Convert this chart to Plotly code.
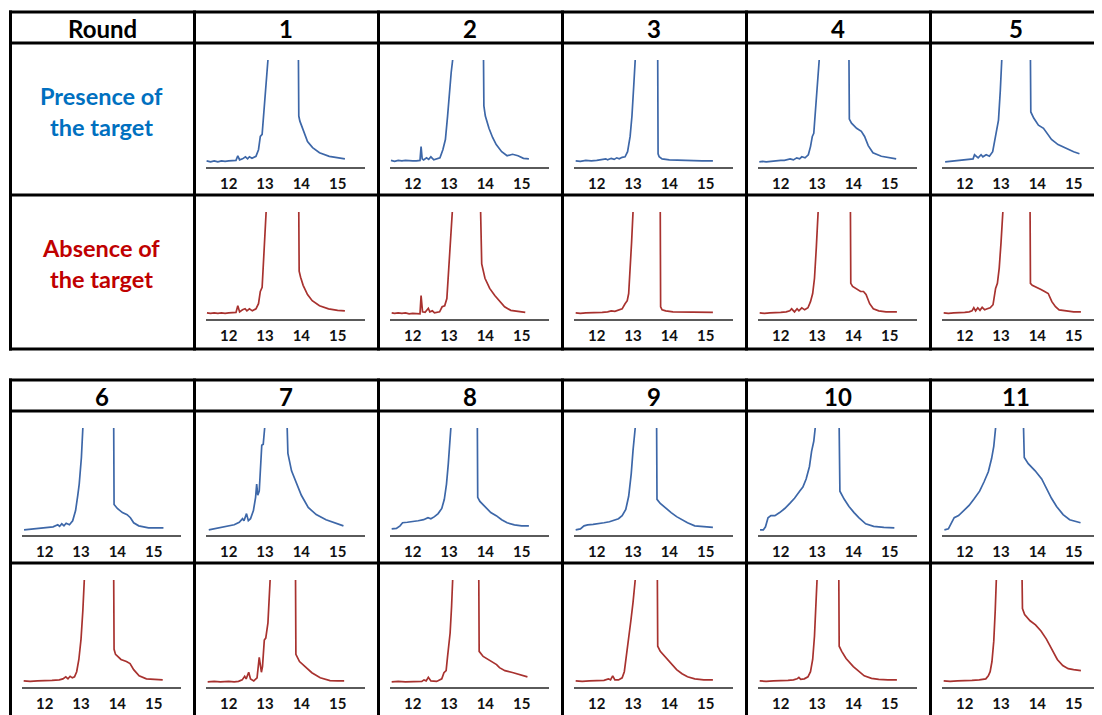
import plotly.graph_objects as go

# ---------------- data ----------------
rounds_top = [1, 2, 3, 4, 5]
rounds_bottom = [6, 7, 8, 9, 10, 11]
header_first = "Round"
row_label_presence = ["Presence of", "the target"]
row_label_absence = ["Absence of", "the target"]
tick_values = [12, 13, 14, 15]
x_range = [11.36, 15.74]
y_range = [-0.05, 1.0]

# Presence (blue) / Absence (red) traces for each round; None splits the clipped peak
p1_x = [11.39, 11.5, 11.6, 11.7, 11.8, 11.9, 12.0, 12.1, 12.2, 12.25, 12.3, 12.38, 12.46, 12.52, 12.57, 12.64, 12.75, 12.82, 12.87, 12.92, 12.96, 13.01, 13.05, 13.08, None, 13.92, 13.93, 13.96, 14.04, 14.17, 14.31, 14.5, 14.77, 15.0, 15.2]
p1_y = [0.01, 0.0, 0.01, 0.0, 0.01, 0.005, 0.01, 0.01, 0.015, 0.06, 0.02, 0.03, 0.05, 0.03, 0.05, 0.035, 0.055, 0.12, 0.25, 0.27, 0.45, 0.67, 0.9, 1.0, None, 1.0, 0.45, 0.4, 0.32, 0.2, 0.14, 0.09, 0.055, 0.04, 0.03]
a1_x = [11.4, 11.5, 11.6, 11.7, 11.8, 11.9, 12.0, 12.1, 12.2, 12.25, 12.3, 12.38, 12.45, 12.5, 12.57, 12.65, 12.75, 12.82, 12.87, 12.92, 12.96, 13.0, 13.03, None, 13.93, 13.94, 13.98, 14.05, 14.17, 14.3, 14.5, 14.75, 15.0, 15.2]
a1_y = [0.01, 0.005, 0.01, 0.005, 0.01, 0.005, 0.01, 0.01, 0.015, 0.08, 0.02, 0.04, 0.05, 0.03, 0.05, 0.03, 0.05, 0.1, 0.22, 0.26, 0.5, 0.8, 1.0, None, 1.0, 0.42, 0.36, 0.28, 0.19, 0.13, 0.08, 0.05, 0.035, 0.03]

p2_x = [11.4, 11.5, 11.6, 11.7, 11.8, 11.9, 12.0, 12.1, 12.2, 12.23, 12.26, 12.3, 12.38, 12.44, 12.5, 12.58, 12.66, 12.75, 12.83, 12.9, 12.96, 13.01, 13.06, 13.1, None, 13.95, 13.96, 14.0, 14.1, 14.2, 14.3, 14.45, 14.6, 14.75, 14.9, 15.05, 15.2]
p2_y = [0.015, 0.005, 0.015, 0.01, 0.015, 0.01, 0.01, 0.01, 0.015, 0.15, 0.03, 0.02, 0.04, 0.025, 0.05, 0.02, 0.03, 0.04, 0.12, 0.22, 0.45, 0.7, 0.88, 1.0, None, 1.0, 0.55, 0.45, 0.33, 0.24, 0.17, 0.1, 0.06, 0.075, 0.06, 0.035, 0.03]
a2_x = [11.42, 11.5, 11.6, 11.7, 11.8, 11.9, 12.0, 12.1, 12.2, 12.23, 12.27, 12.34, 12.43, 12.47, 12.54, 12.6, 12.74, 12.81, 12.88, 12.94, 12.99, 13.04, 13.09, None, 13.87, 13.88, 13.9, 13.99, 14.12, 14.26, 14.39, 14.53, 14.7, 14.9, 15.1]
a2_y = [0.01, 0.005, 0.01, 0.005, 0.01, 0.0, 0.005, 0.005, 0.0, 0.18, 0.02, 0.015, 0.055, 0.02, 0.03, 0.01, 0.02, 0.07, 0.08, 0.15, 0.47, 0.77, 1.0, None, 1.0, 0.55, 0.49, 0.35, 0.25, 0.18, 0.13, 0.07, 0.035, 0.025, 0.015]

p3_x = [11.42, 11.55, 11.7, 11.85, 12.0, 12.15, 12.25, 12.3, 12.4, 12.48, 12.55, 12.62, 12.7, 12.78, 12.85, 12.92, 12.97, 13.02, 13.06, None, 13.68, 13.69, 13.72, 13.8, 14.0, 14.3, 14.6, 14.9, 15.2]
p3_y = [0.01, 0.005, 0.015, 0.01, 0.015, 0.02, 0.03, 0.02, 0.035, 0.025, 0.04, 0.03, 0.045, 0.05, 0.1, 0.25, 0.45, 0.75, 1.0, None, 1.0, 0.08, 0.05, 0.03, 0.02, 0.015, 0.015, 0.01, 0.01]
a3_x = [11.42, 11.55, 11.7, 11.85, 12.0, 12.15, 12.3, 12.4, 12.5, 12.6, 12.7, 12.78, 12.84, 12.88, 12.92, 12.96, 13.0, None, 13.75, 13.76, 13.8, 13.9, 14.1, 14.4, 14.7, 15.0, 15.2]
a3_y = [0.01, 0.005, 0.01, 0.01, 0.015, 0.015, 0.02, 0.03, 0.025, 0.04, 0.05, 0.1, 0.13, 0.2, 0.4, 0.7, 1.0, None, 1.0, 0.07, 0.04, 0.03, 0.02, 0.02, 0.015, 0.015, 0.015]

p4_x = [11.41, 11.5, 11.6, 11.7, 11.8, 11.9, 12.0, 12.1, 12.2, 12.26, 12.35, 12.44, 12.52, 12.58, 12.67, 12.76, 12.82, 12.87, 12.91, 12.96, 13.02, 13.06, None, 13.88, 13.89, 13.95, 14.09, 14.22, 14.31, 14.41, 14.54, 14.77, 15.0, 15.18]
p4_y = [0.0, 0.005, 0.0, 0.005, 0.01, 0.01, 0.015, 0.015, 0.02, 0.03, 0.02, 0.04, 0.03, 0.05, 0.04, 0.07, 0.15, 0.25, 0.28, 0.51, 0.77, 1.0, None, 1.0, 0.42, 0.38, 0.33, 0.3, 0.25, 0.16, 0.09, 0.055, 0.04, 0.03]
a4_x = [11.42, 11.55, 11.7, 11.85, 12.0, 12.15, 12.25, 12.3, 12.38, 12.45, 12.5, 12.58, 12.66, 12.75, 12.82, 12.88, 12.93, 12.98, 13.03, None, 13.92, 13.93, 13.98, 14.1, 14.2, 14.28, 14.35, 14.45, 14.55, 14.7, 14.9, 15.2]
a4_y = [0.01, 0.005, 0.01, 0.01, 0.015, 0.02, 0.03, 0.05, 0.02, 0.05, 0.03, 0.06, 0.04, 0.06, 0.12, 0.2, 0.35, 0.65, 1.0, None, 1.0, 0.3, 0.27, 0.24, 0.22, 0.22, 0.19, 0.1, 0.05, 0.03, 0.02, 0.02]

p5_x = [11.46, 11.6, 11.75, 11.9, 12.05, 12.15, 12.23, 12.27, 12.32, 12.37, 12.45, 12.5, 12.59, 12.68, 12.77, 12.83, 12.88, 12.93, 12.98, 13.02, None, 13.81, 13.82, 13.9, 14.03, 14.17, 14.29, 14.39, 14.57, 14.8, 15.0, 15.16]
p5_y = [0.0, 0.005, 0.01, 0.015, 0.02, 0.025, 0.03, 0.07, 0.055, 0.04, 0.07, 0.05, 0.07, 0.055, 0.1, 0.22, 0.31, 0.41, 0.7, 1.0, None, 1.0, 0.49, 0.43, 0.36, 0.33, 0.27, 0.22, 0.17, 0.13, 0.1, 0.08]
a5_x = [11.42, 11.55, 11.7, 11.85, 12.0, 12.12, 12.2, 12.25, 12.3, 12.36, 12.42, 12.48, 12.55, 12.62, 12.7, 12.78, 12.85, 12.9, 12.95, 13.0, 13.05, None, 13.8, 13.81, 13.86, 14.0, 14.1, 14.2, 14.3, 14.4, 14.5, 14.6, 14.8, 15.0, 15.2]
a5_y = [0.01, 0.005, 0.01, 0.01, 0.015, 0.02, 0.03, 0.06, 0.03, 0.06, 0.035, 0.065, 0.04, 0.05, 0.06, 0.09, 0.25, 0.3, 0.45, 0.7, 1.0, None, 1.0, 0.3, 0.28, 0.26, 0.24, 0.22, 0.2, 0.12, 0.07, 0.04, 0.03, 0.02, 0.02]

p6_x = [11.43, 11.6, 11.75, 11.86, 12.0, 12.1, 12.23, 12.36, 12.41, 12.47, 12.53, 12.59, 12.68, 12.77, 12.85, 12.91, 12.95, 13.01, 13.05, None, 13.9, 13.91, 14.0, 14.14, 14.27, 14.36, 14.45, 14.59, 14.86, 15.05, 15.27]
p6_y = [0.0, 0.005, 0.01, 0.015, 0.02, 0.025, 0.03, 0.05, 0.035, 0.06, 0.04, 0.065, 0.05, 0.09, 0.19, 0.34, 0.45, 0.71, 1.0, None, 1.0, 0.25, 0.21, 0.17, 0.15, 0.12, 0.07, 0.04, 0.02, 0.02, 0.02]
a6_x = [11.42, 11.6, 11.8, 12.0, 12.2, 12.4, 12.5, 12.58, 12.64, 12.7, 12.76, 12.82, 12.88, 12.94, 13.0, 13.05, 13.09, None, 13.9, 13.91, 13.95, 14.1, 14.25, 14.35, 14.45, 14.6, 14.8, 15.0, 15.25]
a6_y = [0.01, 0.005, 0.01, 0.01, 0.015, 0.02, 0.03, 0.05, 0.03, 0.055, 0.04, 0.05, 0.1, 0.22, 0.42, 0.7, 1.0, None, 1.0, 0.32, 0.27, 0.22, 0.2, 0.18, 0.12, 0.06, 0.03, 0.025, 0.02]

p7_x = [11.45, 11.6, 11.8, 11.97, 12.15, 12.29, 12.38, 12.42, 12.49, 12.54, 12.6, 12.68, 12.74, 12.77, 12.8, 12.84, 12.88, 12.91, 12.95, 12.99, None, 13.61, 13.63, 13.73, 13.87, 14.0, 14.19, 14.41, 14.68, 14.9, 15.16]
p7_y = [0.0, 0.01, 0.025, 0.04, 0.05, 0.075, 0.11, 0.09, 0.16, 0.09, 0.11, 0.19, 0.32, 0.45, 0.34, 0.38, 0.61, 0.83, 0.84, 1.0, None, 1.0, 0.75, 0.58, 0.45, 0.34, 0.22, 0.15, 0.1, 0.07, 0.04]
a7_x = [11.42, 11.6, 11.77, 12.0, 12.15, 12.27, 12.37, 12.44, 12.48, 12.55, 12.6, 12.69, 12.78, 12.84, 12.9, 12.93, 12.98, 13.02, 13.08, 13.12, 13.14, None, 13.84, 13.85, 13.95, 14.1, 14.29, 14.52, 14.79, 15.0, 15.18]
a7_y = [0.0, 0.005, 0.0, 0.005, 0.0, 0.005, 0.02, 0.055, 0.03, 0.095, 0.03, 0.01, 0.04, 0.24, 0.095, 0.15, 0.41, 0.43, 0.58, 0.8, 1.0, None, 1.0, 0.27, 0.2, 0.15, 0.09, 0.04, 0.013, 0.01, 0.01]

p8_x = [11.42, 11.55, 11.65, 11.72, 11.85, 12.0, 12.15, 12.3, 12.42, 12.5, 12.6, 12.7, 12.8, 12.87, 12.93, 12.98, 13.02, 13.05, None, 13.78, 13.79, 13.85, 14.0, 14.15, 14.3, 14.45, 14.6, 14.8, 15.0, 15.2]
p8_y = [0.01, 0.015, 0.04, 0.07, 0.075, 0.08, 0.09, 0.1, 0.12, 0.11, 0.13, 0.16, 0.21, 0.3, 0.45, 0.65, 0.85, 1.0, None, 1.0, 0.32, 0.28, 0.22, 0.17, 0.14, 0.1, 0.07, 0.05, 0.04, 0.04]
a8_x = [11.42, 11.6, 11.8, 12.02, 12.25, 12.31, 12.37, 12.43, 12.5, 12.66, 12.8, 12.86, 12.92, 12.96, 13.03, 13.07, 13.1, None, 13.82, 13.83, 13.94, 14.08, 14.22, 14.31, 14.39, 14.54, 14.77, 15.0, 15.16]
a8_y = [0.0, 0.005, 0.0, 0.0, 0.005, 0.02, 0.01, 0.045, 0.01, 0.005, 0.03, 0.09, 0.11, 0.25, 0.48, 0.74, 1.0, None, 1.0, 0.3, 0.25, 0.22, 0.19, 0.17, 0.14, 0.11, 0.09, 0.07, 0.05]

p9_x = [11.42, 11.55, 11.65, 11.75, 11.9, 12.05, 12.2, 12.35, 12.5, 12.6, 12.7, 12.8, 12.88, 12.95, 13.0, 13.06, None, 13.65, 13.66, 13.75, 13.9, 14.05, 14.2, 14.35, 14.5, 14.7, 14.95, 15.2]
p9_y = [0.0, 0.01, 0.04, 0.05, 0.055, 0.06, 0.07, 0.08, 0.1, 0.11, 0.14, 0.2, 0.33, 0.55, 0.78, 1.0, None, 1.0, 0.3, 0.26, 0.21, 0.17, 0.13, 0.1, 0.07, 0.04, 0.03, 0.025]
a9_x = [11.42, 11.6, 11.8, 12.0, 12.2, 12.32, 12.38, 12.44, 12.5, 12.6, 12.7, 12.76, 12.82, 12.88, 12.94, 13.0, 13.06, None, 13.67, 13.68, 13.75, 13.9, 14.05, 14.2, 14.35, 14.5, 14.7, 14.95, 15.2]
a9_y = [0.01, 0.005, 0.01, 0.01, 0.015, 0.03, 0.02, 0.06, 0.02, 0.02, 0.04, 0.1, 0.25, 0.45, 0.6, 0.78, 1.0, None, 1.0, 0.35, 0.3, 0.24, 0.18, 0.12, 0.08, 0.05, 0.03, 0.02, 0.02]

p10_x = [11.43, 11.52, 11.58, 11.65, 11.73, 11.84, 11.97, 12.11, 12.25, 12.38, 12.52, 12.61, 12.7, 12.79, 12.85, 12.91, 12.95, None, 13.61, 13.63, 13.75, 13.88, 14.02, 14.15, 14.34, 14.56, 14.84, 15.13]
p10_y = [0.0, 0.0, 0.03, 0.12, 0.14, 0.14, 0.17, 0.21, 0.26, 0.31, 0.38, 0.42, 0.5, 0.62, 0.77, 0.87, 1.0, None, 1.0, 0.38, 0.3, 0.23, 0.17, 0.12, 0.06, 0.035, 0.025, 0.02]
a10_x = [11.42, 11.6, 11.8, 12.0, 12.2, 12.35, 12.45, 12.5, 12.55, 12.65, 12.75, 12.82, 12.88, 12.93, 12.97, 13.0, None, 13.6, 13.61, 13.68, 13.8, 14.0, 14.15, 14.3, 14.5, 14.7, 14.95, 15.2]
a10_y = [0.01, 0.005, 0.01, 0.01, 0.015, 0.02, 0.03, 0.045, 0.025, 0.03, 0.05, 0.1, 0.22, 0.45, 0.72, 1.0, None, 1.0, 0.35, 0.3, 0.23, 0.15, 0.1, 0.06, 0.035, 0.025, 0.02, 0.02]

p11_x = [11.44, 11.55, 11.62, 11.71, 11.83, 11.98, 12.12, 12.25, 12.41, 12.53, 12.65, 12.74, 12.8, 12.85, None, 13.62, 13.64, 13.75, 13.94, 14.12, 14.25, 14.39, 14.53, 14.71, 14.89, 15.19]
p11_y = [0.0, 0.01, 0.06, 0.12, 0.14, 0.19, 0.24, 0.3, 0.38, 0.47, 0.57, 0.7, 0.82, 1.0, None, 1.0, 0.71, 0.65, 0.58, 0.5, 0.41, 0.31, 0.23, 0.15, 0.1, 0.07]
a11_x = [11.42, 11.6, 11.8, 12.0, 12.2, 12.4, 12.5, 12.58, 12.65, 12.7, 12.75, 12.8, 12.84, 12.87, None, 13.58, 13.59, 13.65, 13.8, 13.95, 14.1, 14.25, 14.4, 14.55, 14.7, 14.85, 15.0, 15.2]
a11_y = [0.01, 0.005, 0.01, 0.01, 0.015, 0.02, 0.025, 0.03, 0.06, 0.1, 0.2, 0.4, 0.7, 1.0, None, 1.0, 0.72, 0.66, 0.6, 0.56, 0.5, 0.42, 0.32, 0.22, 0.16, 0.13, 0.12, 0.11]

presence_series = {1: (p1_x, p1_y), 2: (p2_x, p2_y), 3: (p3_x, p3_y), 4: (p4_x, p4_y), 5: (p5_x, p5_y),
                   6: (p6_x, p6_y), 7: (p7_x, p7_y), 8: (p8_x, p8_y), 9: (p9_x, p9_y), 10: (p10_x, p10_y), 11: (p11_x, p11_y)}
absence_series = {1: (a1_x, a1_y), 2: (a2_x, a2_y), 3: (a3_x, a3_y), 4: (a4_x, a4_y), 5: (a5_x, a5_y),
                  6: (a6_x, a6_y), 7: (a7_x, a7_y), 8: (a8_x, a8_y), 9: (a9_x, a9_y), 10: (a10_x, a10_y), 11: (a11_x, a11_y)}

# ---------------- styling / geometry ----------------
W, H = 1102, 715
OFF = 8  # the page body adds an 8px margin; layout coordinates below are in screen pixels
BLUE_LINE = "#3D67A8"
RED_LINE = "#A8322F"
BLUE_TEXT = "#0070C0"
RED_TEXT = "#C00000"
FONT = "Lato"
col_left = [10, 194, 378, 562, 746, 930]
col_center = [102, 286, 470, 654, 838, 1016]
tables = [
    dict(top=12, head_bot=43, row_mid=195, bottom=349, first_col=1, rounds=rounds_top),
    dict(top=380, head_bot=411, row_mid=563, bottom=720, first_col=0, rounds=rounds_bottom),
]


def px(x):
    return (x - OFF) / W


def py(y):
    return 1 - (y - OFF) / H


fig = go.Figure()
layout_axes = {}
shapes = []
annotations = []
k = 0

for t in tables:
    for ci, rnd in enumerate(t["rounds"]):
        col = t["first_col"] + ci
        left = col_left[col]
        for row_top, series, color in [(t["head_bot"], presence_series, BLUE_LINE),
                                       (t["row_mid"], absence_series, RED_LINE)]:
            k += 1
            xs, ys = series[rnd]
            xa = "x" if k == 1 else f"x{k}"
            ya = "y" if k == 1 else f"y{k}"
            fig.add_trace(go.Scatter(x=xs, y=ys, mode="lines", xaxis=xa, yaxis=ya,
                                     line=dict(color=color, width=1.7), connectgaps=False,
                                     showlegend=False, hoverinfo="skip"))
            xname = "xaxis" if k == 1 else f"xaxis{k}"
            yname = "yaxis" if k == 1 else f"yaxis{k}"
            layout_axes[xname] = dict(
                domain=[px(left + 11.5), px(left + 170.5)], anchor=ya, range=x_range,
                showline=True, linecolor="#5a5a5a", linewidth=1.5, showgrid=False, zeroline=False,
                tickvals=tick_values, ticktext=[str(v) for v in tick_values], ticks="",
                ticklabelstandoff=2,
                tickfont=dict(family=FONT, size=15, color="#111111", weight="bold"),
            )
            layout_axes[yname] = dict(
                domain=[py(row_top + 124), py(row_top + 17)], anchor=xa, range=y_range,
                visible=False, showgrid=False, zeroline=False,
            )
    # header texts
    for ci, rnd in enumerate(t["rounds"]):
        col = t["first_col"] + ci
        annotations.append(dict(x=px(col_center[col]), y=py((t["top"] + t["head_bot"]) / 2 + 1),
                                xref="paper", yref="paper", text=str(rnd), showarrow=False,
                                xanchor="center", yanchor="middle",
                                font=dict(family=FONT, size=24, color="#000000", weight="bold")))
    # grid
    for yy in [t["top"], t["head_bot"], t["row_mid"], t["bottom"]]:
        shapes.append(dict(type="line", xref="paper", yref="paper", x0=px(9), x1=px(1112),
                           y0=py(yy), y1=py(yy), line=dict(color="#000000", width=3)))
    for xx in col_left:
        shapes.append(dict(type="line", xref="paper", yref="paper", x0=px(xx + 0.5), x1=px(xx + 0.5),
                           y0=py(t["top"] - 1.5), y1=py(t["bottom"] + 1.5),
                           line=dict(color="#000000", width=3)))

annotations.append(dict(x=px(102), y=py(28), xref="paper", yref="paper", text=header_first,
                        showarrow=False, xanchor="center", yanchor="middle",
                        font=dict(family=FONT, size=24, color="#000000", weight="bold")))
for line_text, yy in zip(row_label_presence, [96, 127]):
    annotations.append(dict(x=px(101), y=py(yy), xref="paper", yref="paper", text=line_text,
                            showarrow=False, xanchor="center", yanchor="middle",
                            font=dict(family=FONT, size=23.5, color=BLUE_TEXT, weight="bold")))
for line_text, yy in zip(row_label_absence, [248, 279]):
    annotations.append(dict(x=px(101), y=py(yy), xref="paper", yref="paper", text=line_text,
                            showarrow=False, xanchor="center", yanchor="middle",
                            font=dict(family=FONT, size=23.5, color=RED_TEXT, weight="bold")))

fig.update_layout(
    width=W, height=H, margin=dict(l=0, r=0, t=0, b=0),
    paper_bgcolor="white", plot_bgcolor="rgba(0,0,0,0)",
    shapes=shapes, annotations=annotations, showlegend=False,
    **layout_axes,
)

fig.write_html("out.html")
